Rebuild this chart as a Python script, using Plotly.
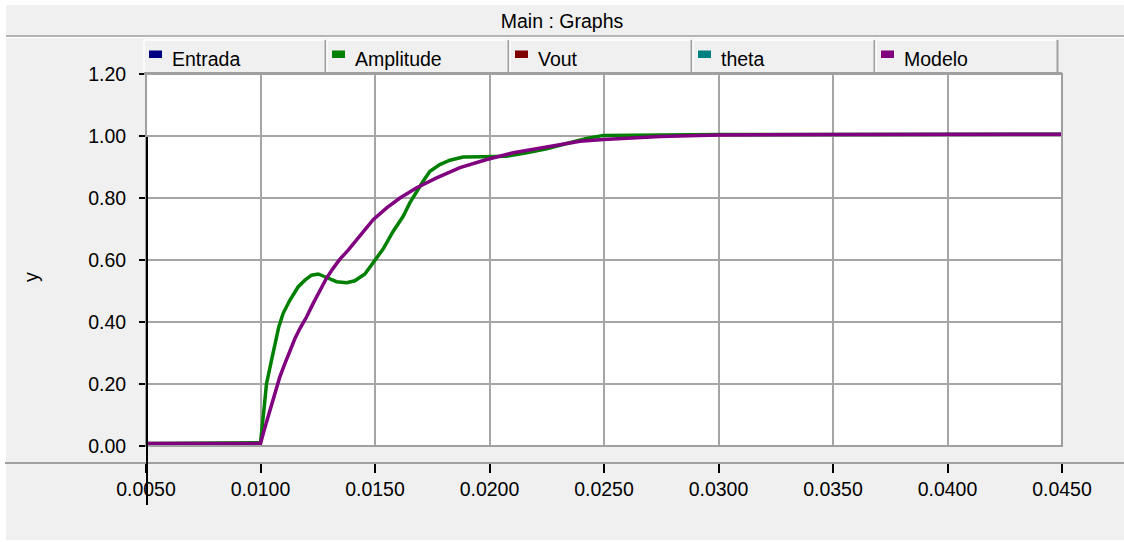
import plotly.graph_objects as go

# ---------------- data ----------------
t_amplitude = [0.0050, 0.0100, 0.01019, 0.01026, 0.01048, 0.01062, 0.01080, 0.01099,
               0.01128, 0.01164, 0.01194, 0.01223, 0.01252, 0.01281, 0.01332, 0.01376,
               0.01412, 0.01456, 0.01492, 0.01536, 0.01579, 0.01623, 0.01652, 0.01682,
               0.01710, 0.01740, 0.01783, 0.01827, 0.01885, 0.01973, 0.02075, 0.02162,
               0.02250, 0.02337, 0.02424, 0.02497, 0.02745, 0.03000, 0.03500, 0.04500]
v_amplitude = [0.008, 0.011, 0.146, 0.200, 0.276, 0.325, 0.385, 0.428,
               0.470, 0.513, 0.535, 0.551, 0.555, 0.546, 0.530, 0.527,
               0.533, 0.555, 0.592, 0.636, 0.692, 0.741, 0.784, 0.822,
               0.854, 0.886, 0.908, 0.922, 0.932, 0.933, 0.935, 0.946,
               0.959, 0.976, 0.992, 1.002, 1.004, 1.005, 1.005, 1.006]

t_modelo = [0.0050, 0.0100, 0.01019, 0.01041, 0.01062, 0.01084, 0.01106, 0.01128,
            0.01150, 0.01172, 0.01201, 0.01230, 0.01259, 0.01288, 0.01317, 0.01346,
            0.01383, 0.01434, 0.01492, 0.01551, 0.01609, 0.01682, 0.01769, 0.01871,
            0.01988, 0.02104, 0.02250, 0.02395, 0.02497, 0.02628, 0.02745, 0.03000,
            0.03500, 0.04500]
v_modelo = [0.008, 0.008, 0.059, 0.114, 0.168, 0.222, 0.265, 0.308,
            0.346, 0.379, 0.416, 0.460, 0.503, 0.541, 0.573, 0.602,
            0.632, 0.676, 0.730, 0.768, 0.800, 0.833, 0.865, 0.898,
            0.924, 0.946, 0.966, 0.983, 0.989, 0.995, 0.998, 1.003,
            1.005, 1.006]

series_names = ["Entrada", "Amplitude", "Vout", "theta", "Modelo"]
series_colors = ["#000080", "#008000", "#800000", "#008080", "#800080"]

x_ticks = [0.005, 0.010, 0.015, 0.020, 0.025, 0.030, 0.035, 0.040, 0.045]
y_ticks = [0.0, 0.2, 0.4, 0.6, 0.8, 1.0, 1.2]

title_text = "Main : Graphs"
y_label = "y"

# ---------------- layout geometry ----------------
W, H = 1124, 542
ML, MR, MT, MB = 146, 62, 74, 79
PW, PH = W - ML - MR, H - MT - MB
FONT = "Liberation Sans, Arial, sans-serif"
GRID = "#a6a6a6"
EDGE = "#a0a0a0"
BG = "#f0f0f0"


def px(xp):
    return (xp - ML) / PW


def py(yp):
    return (H - MB - yp) / PH


fig = go.Figure()
fig.add_trace(go.Scatter(x=t_amplitude, y=v_amplitude, mode="lines", name=series_names[1],
                         line=dict(color=series_colors[1], width=3.5), showlegend=False))
fig.add_trace(go.Scatter(x=t_modelo, y=v_modelo, mode="lines", name=series_names[4],
                         line=dict(color=series_colors[4], width=3.5), showlegend=False))

shapes = []
annotations = []


def hline(x0, x1, y, color, width):
    shapes.append(dict(type="line", xref="paper", yref="paper", x0=px(x0), x1=px(x1),
                       y0=py(y), y1=py(y), line=dict(color=color, width=width), layer="above"))


def vline(x, y0, y1, color, width):
    shapes.append(dict(type="line", xref="paper", yref="paper", x0=px(x), x1=px(x),
                       y0=py(y0), y1=py(y1), line=dict(color=color, width=width), layer="above"))


def rect(x0, y0, x1, y1, fill):
    shapes.append(dict(type="rect", xref="paper", yref="paper", x0=px(x0), x1=px(x1),
                       y0=py(y0), y1=py(y1), fillcolor=fill, line=dict(width=0), layer="above"))


# white frame strips
rect(0, 0, W, 5, "white")
rect(0, 0, 6, H, "white")
rect(0, 540, W, H, "white")

# title bar separator
hline(6, W, 36, EDGE, 1.5)
hline(6, W, 37.5, "white", 1)

# legend tabs
tab_x0, tab_w = 144, 183
for i, (name, col) in enumerate(zip(series_names, series_colors)):
    L = tab_x0 + i * tab_w
    R = L + tab_w - 2
    hline(L, R, 40, "white", 1.5)
    vline(L, 40, 72, "white", 1.5)
    vline(R + 0.5, 40, 73, EDGE, 2)
    rect(L + 5, 50.5, L + 18, 58, col)
    annotations.append(dict(xref="paper", yref="paper", x=px(L + 26), y=py(58.5),
                            xanchor="left", yanchor="middle", showarrow=False, text=name,
                            font=dict(family=FONT, size=19.5, color="#000")))

# y-axis label
annotations.append(dict(xref="paper", yref="paper", x=px(31), y=py(277), textangle=-90,
                        xanchor="center", yanchor="middle", showarrow=False, text=y_label,
                        font=dict(family=FONT, size=19.5, color="#000")))

# plot box
shapes.append(dict(type="rect", xref="paper", yref="paper", x0=0, x1=1, y0=py(446), y1=1,
                   line=dict(color=EDGE, width=2), fillcolor="rgba(0,0,0,0)", layer="above"))
hline(144, 1062, 73.5, EDGE, 3)

# x axis separator line
hline(5, W, 463, EDGE, 2)

# black cursor line
vline(147, 137, 505, "black", 2)

fig.update_layout(
    width=W, height=H,
    margin=dict(l=ML, r=MR, t=MT, b=MB, pad=0),
    paper_bgcolor=BG, plot_bgcolor="white",
    showlegend=False,
    title=dict(text=title_text, x=0.5, xanchor="center", xref="container",
               y=1 - 21 / H, yanchor="middle", yref="container",
               font=dict(family=FONT, size=19.5, color="#000")),
    font=dict(family=FONT, size=19.5, color="#000"),
    xaxis=dict(range=[x_ticks[0], x_ticks[-1]], anchor="free", position=0,
               tickmode="array", tickvals=x_ticks, tickformat=".4f",
               ticks="outside", ticklen=9, tickwidth=2, tickcolor="black",
               showgrid=True, gridcolor=GRID, gridwidth=2, zeroline=False, showline=False,
               tickfont=dict(family=FONT, size=19.5, color="#000")),
    yaxis=dict(range=[y_ticks[0], y_ticks[-1]], domain=[py(446), 1],
               tickmode="array", tickvals=y_ticks, tickformat=".2f",
               ticks="outside", ticklen=6, tickwidth=2, tickcolor="black",
               ticklabelstandoff=9,
               showgrid=True, gridcolor=GRID, gridwidth=2, zeroline=False, showline=False,
               tickfont=dict(family=FONT, size=19.5, color="#000")),
    shapes=shapes,
    annotations=annotations,
)

fig.write_html("out.html", config={"displayModeBar": False},
               post_script="document.body.style.margin='0px';document.body.style.overflow='hidden';")
